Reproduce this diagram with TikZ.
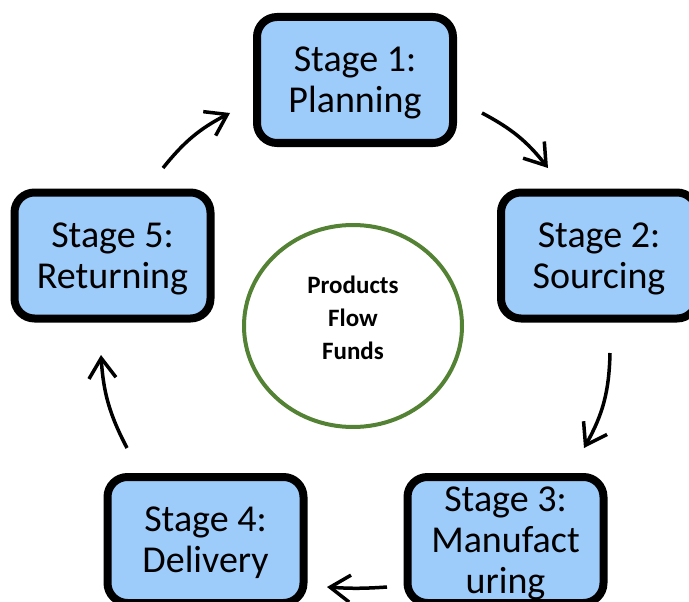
\documentclass[tikz,border=0pt]{standalone}
\usepackage{fontspec}
\setmainfont{Carlito}
\usetikzlibrary{arrows.meta,shapes.geometric}
\definecolor{Azul}{RGB}{157,203,250}
\definecolor{Verde}{RGB}{84,130,53}

\begin{document}
\begin{tikzpicture}[x=1pt,y=-1pt,
    etapa/.style={draw=black, fill=Azul, line width=8pt, rounded corners=20pt,
        minimum width=196pt, minimum height=126pt, inner sep=0pt, align=center,
        text depth=0pt, font=\fontsize{38}{41}\selectfont},
    flecha/.style={line width=3.5pt, -{Straight Barb[length=20pt,width=27pt]}}]
    \useasboundingbox (0,0) rectangle (689,602);
    \clip (0,0) rectangle (689,602);

    %Circulo central
    \node[ellipse, draw=Verde, line width=4pt, minimum width=218pt,
        minimum height=202pt] (centro) at (353,326) {};
    \node[align=center, font=\fontsize{25}{33}\selectfont\bfseries]
        (flujos) at (353,318) {Products\\Flow\\Funds};

    %Etapas
    \node[etapa] (e1) at (355,80) {Stage 1:\\Planning};
    \node[etapa] (e2) at (599,255.5) {Stage 2:\\Sourcing};
    \node[etapa] (e3) at (505.5,540) {Stage 3:\\Manufact\\uring};
    \node[etapa] (e4) at (205.5,540) {Stage 4:\\Delivery};
    \node[etapa] (e5) at (112.5,255.5) {Stage 5:\\Returning};

    %Extremos de las flechas
    \coordinate (f1a) at (163,168); \coordinate (f1b) at (230,113);
    \coordinate (f2a) at (482,113); \coordinate (f2b) at (548,168);
    \coordinate (f3a) at (610,353); \coordinate (f3b) at (584,448);
    \coordinate (f4a) at (387,587); \coordinate (f4b) at (327,587);
    \coordinate (f5a) at (127,448); \coordinate (f5b) at (101,355);

    %Flechas (sentido horario)
    \draw[flecha] (f1a) to[bend left=12] (f1b);
    \draw[flecha] (f2a) to[bend left=12] (f2b);
    \draw[flecha] (f3a) to[bend left=14] (f3b);
    \draw[flecha] (f4a) to[bend left=4] (f4b);
    \draw[flecha] (f5a) to[bend left=12] (f5b);
\end{tikzpicture}
\end{document}
